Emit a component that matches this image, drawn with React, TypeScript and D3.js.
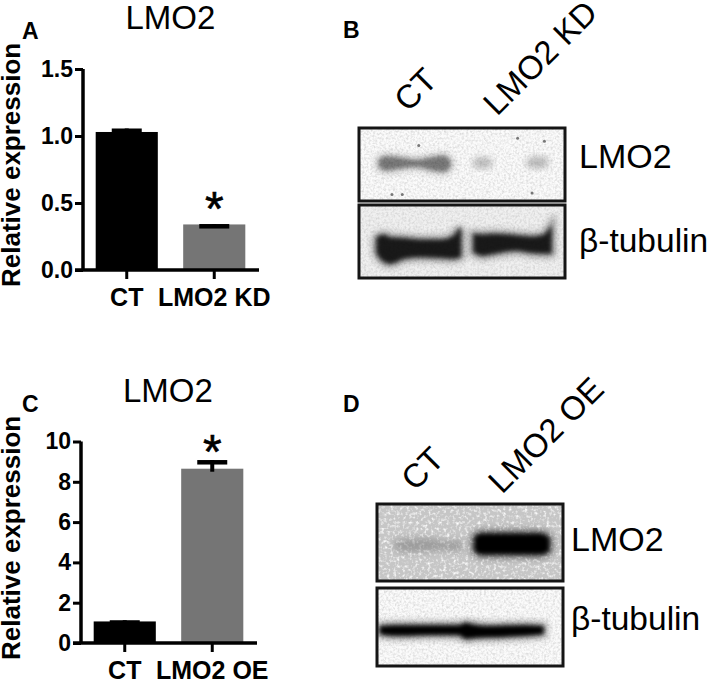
import { useEffect, useRef } from 'react';
import * as d3 from 'd3';

const FONT = '"Liberation Sans", Arial, sans-serif';

// bar panels
const kdCategories = ['CT', 'LMO2 KD'];
const kdValues = [1.03, 0.34];
const kdErrorsUp = [0.026, 0.003];
const kdErrorsDown = [0.026, 0.003];
const kdTicks = [0, 0.5, 1, 1.5];

const oeCategories = ['CT', 'LMO2 OE'];
const oeValues = [1.07, 8.65];
const oeErrorsUp = [0.06, 0.43];
const oeErrorsDown = [0.06, 0.15];
const oeTicks = [0, 2, 4, 6, 8, 10];

const barColors = ['#000000', '#757575'];

// blot bands: [x %, top %, bottom %] across each membrane box
type Profile = [number, number, number][];

const kdLmo2Bands: Profile[] = [
    [[10, 44, 53], [13, 40, 57], [18, 41, 55], [28, 45, 52], [36, 41, 57], [41, 39, 59], [44, 45, 53]],
];
const kdLmo2Faint: Profile[] = [
    [[56, 45, 51], [60, 42, 53], [64, 45, 51]],
    [[82, 45, 51], [86, 41, 53], [91, 43, 51]],
];
const kdLmo2Specks = [[29, 24], [77, 14], [90, 18], [84, 89], [16, 91], [21, 91]];

const kdTubulinBands: Profile[] = [
    [[9, 45, 66], [12, 42, 76], [15, 46, 79], [22, 47, 72], [30, 49, 70], [40, 49, 71], [46, 44, 72], [49, 32, 70]],
    [[56, 41, 64], [60, 42, 68], [66, 41, 65], [76, 43, 61], [84, 45, 64], [90, 42, 65], [93, 32, 65]],
];

const oeLmo2Bands: Profile[] = [
    [[53, 44, 60], [56, 40, 64], [70, 40, 64], [88, 40, 64], [92, 45, 60]],
];
const oeLmo2Faint: Profile[] = [
    [[10, 49, 58], [16, 47, 61], [28, 46, 60], [36, 50, 58], [45, 49, 59]],
];

const oeTubulinBands: Profile[] = [
    [[2, 50, 58], [10, 49, 60], [30, 49, 59], [44, 49, 59], [48, 46, 64], [51, 48, 63], [60, 50, 62], [80, 49, 60], [89, 50, 58]],
];

const drawBarPanel = (
    svg: d3.Selection<SVGSVGElement, unknown, null, undefined>,
    opts: {
        categories: string[];
        values: number[];
        errorsUp: number[];
        errorsDown: number[];
        ticks: number[];
        domainMax: number;
        axisX: number;
        top: number;
        bottom: number;
        starY: number;
        starIndex: number;
        format: (v: number) => string;
    }
) => {
    const { categories, values, errorsUp, errorsDown, ticks, domainMax, axisX, top, bottom, starY, starIndex, format } = opts;

    const y = d3.scaleLinear().domain([0, domainMax]).range([bottom, top]);
    const x = d3.scaleBand()
        .domain(categories)
        .range([axisX, axisX + 175])
        .paddingInner(0.29)
        .paddingOuter(0.145);

    const g = svg.append('g');

    g.selectAll('.bar')
        .data(categories)
        .enter()
        .append('rect')
        .attr('x', d => x(d) as number)
        .attr('width', x.bandwidth())
        .attr('y', (_, i) => y(values[i]))
        .attr('height', (_, i) => bottom - y(values[i]))
        .attr('fill', (_, i) => barColors[i]);

    // error bars, cap hangs just below the upper limit
    const capWidth = 30;
    const capHeight = 4.5;
    categories.forEach((c, i) => {
        const cx = (x(c) as number) + x.bandwidth() / 2;
        g.append('line')
            .attr('x1', cx)
            .attr('x2', cx)
            .attr('y1', y(values[i] + errorsUp[i]))
            .attr('y2', y(values[i] - errorsDown[i]))
            .attr('stroke', '#000')
            .attr('stroke-width', 4);
        g.append('rect')
            .attr('x', cx - capWidth / 2)
            .attr('width', capWidth)
            .attr('y', y(values[i] + errorsUp[i]))
            .attr('height', capHeight)
            .attr('fill', '#000');
    });

    const yAxis = g.append('g')
        .attr('transform', `translate(${axisX},0)`)
        .call(
            d3.axisLeft(y)
                .tickValues(ticks)
                .tickSize(8)
                .tickPadding(2)
                .tickFormat(d => format(d as number))
        );

    const xAxis = g.append('g')
        .attr('transform', `translate(0,${bottom})`)
        .call(d3.axisBottom(x).tickSize(9).tickPadding(0));

    [yAxis, xAxis].forEach(axis => {
        axis.selectAll('path').attr('stroke', '#000').attr('stroke-width', 3.5);
        axis.selectAll('line').attr('stroke', '#000').attr('stroke-width', 3);
        axis.selectAll('text')
            .attr('fill', '#000')
            .style('font-family', FONT)
            .style('font-weight', '700');
    });
    yAxis.selectAll('text').style('font-size', '23px');
    xAxis.selectAll('text').style('font-size', '25px').attr('y', 18);

    // x axis runs past the last bar and back to the left tick
    xAxis.select('path').attr('d', `M${axisX - 8},0H${axisX + 176}`);
    yAxis.select('path').attr('d', `M0,${top}V${bottom}`);

    const star = categories[starIndex];
    g.append('text')
        .attr('x', (x(star) as number) + x.bandwidth() / 2)
        .attr('y', starY)
        .attr('text-anchor', 'middle')
        .attr('stroke', '#000')
        .attr('stroke-width', 0.6)
        .style('font-family', FONT)
        .style('font-size', '48px')
        .style('font-weight', '400')
        .text('*');
};

const drawBlot = (
    svg: d3.Selection<SVGSVGElement, unknown, null, undefined>,
    opts: {
        x0: number;
        x1: number;
        y0: number;
        y1: number;
        background: string;
        noise: string;
        bands: Profile[];
        faint?: Profile[];
        specks?: number[][];
        core: number;
        halo: number;
    }
) => {
    const { x0, x1, y0, y1, background, noise, bands, faint = [], specks = [], core, halo } = opts;
    const x = d3.scaleLinear().domain([0, 100]).range([x0, x1]);
    const y = d3.scaleLinear().domain([0, 100]).range([y0, y1]);

    const area = d3.area<[number, number, number]>()
        .x(d => x(d[0]))
        .y0(d => y(d[1]))
        .y1(d => y(d[2]))
        .curve(d3.curveMonotoneX);

    const clipId = `clip-${Math.round(x0)}-${Math.round(y0)}`;
    svg.select('defs')
        .append('clipPath')
        .attr('id', clipId)
        .append('rect')
        .attr('x', x0)
        .attr('y', y0)
        .attr('width', x1 - x0)
        .attr('height', y1 - y0);

    const g = svg.append('g').attr('clip-path', `url(#${clipId})`);

    g.append('rect')
        .attr('x', x0)
        .attr('y', y0)
        .attr('width', x1 - x0)
        .attr('height', y1 - y0)
        .attr('fill', background);

    g.append('rect')
        .attr('x', x0)
        .attr('y', y0)
        .attr('width', x1 - x0)
        .attr('height', y1 - y0)
        .attr('filter', `url(#${noise})`);

    // soft halo under every band
    bands.forEach(b => {
        g.append('path')
            .attr('d', area(b))
            .attr('fill', '#000')
            .attr('stroke', '#000')
            .attr('stroke-width', 9)
            .attr('opacity', halo)
            .attr('filter', 'url(#blurWide)');
        g.append('path')
            .attr('d', area(b))
            .attr('fill', '#000')
            .attr('opacity', core)
            .attr('stroke', '#000')
            .attr('stroke-width', 2)
            .attr('filter', 'url(#blurTight)');
    });

    faint.forEach(b => {
        g.append('path')
            .attr('d', area(b))
            .attr('fill', '#6a6a6a')
            .attr('stroke', '#6a6a6a')
            .attr('stroke-width', 3)
            .attr('opacity', 0.46)
            .attr('filter', 'url(#blurWide)');
    });

    specks.forEach(s => {
        g.append('circle')
            .attr('cx', x(s[0]))
            .attr('cy', y(s[1]))
            .attr('r', 1.5)
            .attr('fill', '#777')
            .attr('filter', 'url(#blurSpeck)');
    });

    svg.append('rect')
        .attr('x', x0)
        .attr('y', y0)
        .attr('width', x1 - x0)
        .attr('height', y1 - y0)
        .attr('fill', 'none')
        .attr('stroke', '#151515')
        .attr('stroke-width', 3);
};

const App = () => {
    const svgRef = useRef<SVGSVGElement>(null);

    useEffect(() => {
        if (!svgRef.current) return;
        const svg = d3.select(svgRef.current);
        svg.selectAll('*').remove();

        const defs = svg.append('defs');
        [['blurWide', 3.6], ['blurTight', 2.3], ['blurSpeck', 0.7]].forEach(([id, sd]) => {
            defs.append('filter')
                .attr('id', id as string)
                .attr('x', '-30%')
                .attr('y', '-60%')
                .attr('width', '160%')
                .attr('height', '220%')
                .append('feGaussianBlur')
                .attr('stdDeviation', sd as number);
        });

        // membrane grain: grey mottle on the pale blots, white flecks on the dark one
        const grainLight = defs.append('filter').attr('id', 'grainLight');
        grainLight.append('feTurbulence')
            .attr('type', 'fractalNoise')
            .attr('baseFrequency', 0.45)
            .attr('numOctaves', 2)
            .attr('seed', 4);
        grainLight.append('feColorMatrix')
            .attr('type', 'matrix')
            .attr('values', '0 0 0 0 0.5  0 0 0 0 0.5  0 0 0 0 0.5  0 0 0 1.1 -0.42');

        const grainGrey = defs.append('filter').attr('id', 'grainGrey');
        grainGrey.append('feTurbulence')
            .attr('type', 'fractalNoise')
            .attr('baseFrequency', 0.32)
            .attr('numOctaves', 2)
            .attr('seed', 9);
        grainGrey.append('feColorMatrix')
            .attr('type', 'matrix')
            .attr('values', '0 0 0 0 1  0 0 0 0 1  0 0 0 0 1  0 0 0 2.6 -1.25');

        drawBarPanel(svg, {
            categories: kdCategories,
            values: kdValues,
            errorsUp: kdErrorsUp,
            errorsDown: kdErrorsDown,
            ticks: kdTicks,
            domainMax: 1.5,
            axisX: 83,
            top: 69,
            bottom: 270,
            starY: 225,
            starIndex: 1,
            format: d3.format('.1f'),
        });

        drawBarPanel(svg, {
            categories: oeCategories,
            values: oeValues,
            errorsUp: oeErrorsUp,
            errorsDown: oeErrorsDown,
            ticks: oeTicks,
            domainMax: 10,
            axisX: 81,
            top: 441.5,
            bottom: 643,
            starY: 468,
            starIndex: 1,
            format: d3.format('d'),
        });

        drawBlot(svg, { x0: 359, x1: 565, y0: 128, y1: 201, background: '#fbfbfb', noise: 'grainLight', bands: kdLmo2Bands, faint: kdLmo2Faint, specks: kdLmo2Specks, core: 0.42, halo: 0.16 });
        drawBlot(svg, { x0: 359, x1: 565, y0: 205, y1: 278, background: '#f0f0f0', noise: 'grainLight', bands: kdTubulinBands, core: 0.82, halo: 0.4 });
        drawBlot(svg, { x0: 377, x1: 563, y0: 504, y1: 581, background: '#c6c6c6', noise: 'grainGrey', bands: oeLmo2Bands, faint: oeLmo2Faint, core: 1, halo: 0.5 });
        drawBlot(svg, { x0: 377, x1: 563, y0: 588, y1: 666, background: '#fbfbfb', noise: 'grainLight', bands: oeTubulinBands, core: 1, halo: 0.4 });

        const labels: [string, number, number, number, number, number][] = [
            ['A', 22, 39, 23, 700, 0],
            ['B', 343, 38, 23, 700, 0],
            ['C', 22, 412, 23, 700, 0],
            ['D', 343, 412, 23, 700, 0],
            ['LMO2', 125.5, 29, 33, 400, 0],
            ['LMO2', 123, 402, 33, 400, 0],
            ['LMO2', 579, 168, 34, 400, 0],
            ['β-tubulin', 579, 252, 33.5, 400, 0],
            ['LMO2', 571, 551, 34, 400, 0],
            ['β-tubulin', 571, 630, 33.5, 400, 0],
            ['CT', 408, 113, 33, 400, -45],
            ['LMO2 KD', 497, 117, 33, 400, -45],
            ['CT', 415, 492, 33, 400, -45],
            ['LMO2 OE', 502, 495, 33, 400, -45],
            ['Relative expression', 20, 287, 26, 700, -90],
            ['Relative expression', 20, 660, 26, 700, -90],
        ];

        svg.selectAll('.label')
            .data(labels)
            .enter()
            .append('text')
            .attr('transform', d => `translate(${d[1]},${d[2]}) rotate(${d[5]})`)
            .style('font-family', FONT)
            .style('font-size', d => `${d[3]}px`)
            .style('font-weight', d => d[4])
            .attr('fill', '#000')
            .text(d => d[0]);
    }, []);

    return (
        <svg
            ref={svgRef}
            width={709}
            height={680}
            style={{ position: 'absolute', left: 0, top: 0, background: '#fff' }}
        />
    );
};

export default App;
